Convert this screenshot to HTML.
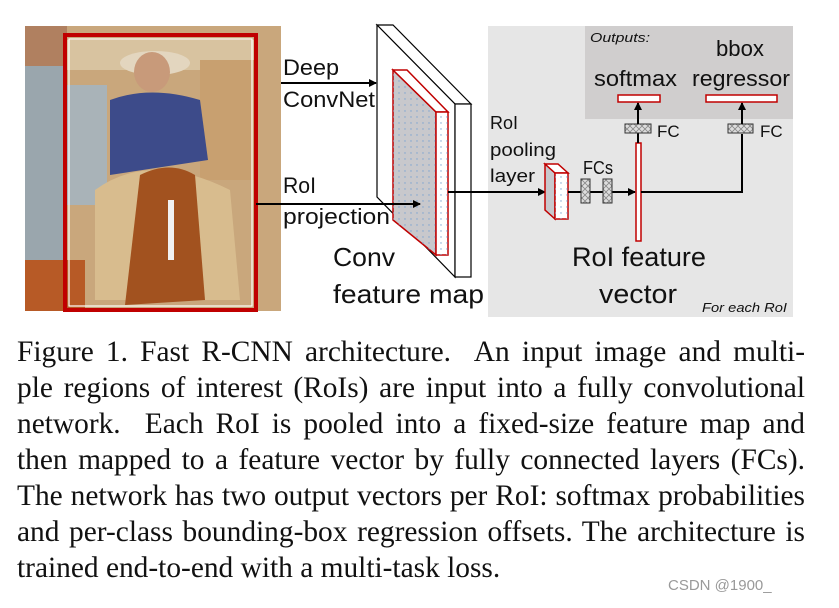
<!DOCTYPE html>
<html><head><meta charset="utf-8"><style>
body{margin:0;width:839px;height:608px;background:#fff;overflow:hidden;position:relative;font-family:"Liberation Sans","DejaVu Sans",sans-serif}
svg{position:absolute;left:0;top:0}
.cap{position:absolute;left:17px;top:334px;width:788px;font-family:"Liberation Serif",serif;font-size:29.4px;line-height:36px;color:#111}
.cap span{display:block;text-align:justify;text-align-last:justify;white-space:nowrap}
.cap span.l{text-align-last:left}
.wm{position:absolute;left:668px;top:577px;font-size:15px;color:#999}
</style></head><body>
<svg width="839" height="608" viewBox="0 0 839 608">
<defs>
<pattern id="dots" width="6" height="6" patternUnits="userSpaceOnUse"><rect width="6" height="6" fill="none"/><circle cx="3" cy="3" r="0.7" fill="#7aa3d0"/></pattern>
<pattern id="xx" width="6" height="6" patternUnits="userSpaceOnUse"><rect width="6" height="6" fill="#ddd"/><path d="M0 0L6 6M6 0L0 6" stroke="#888" stroke-width="0.8"/></pattern>
<marker id="ar" markerWidth="8" markerHeight="8" refX="7" refY="4" orient="auto" markerUnits="userSpaceOnUse"><path d="M0 0L8 4L0 8z" fill="#000"/></marker>
</defs>
<rect x="25" y="26" width="256" height="285" fill="#c9a77c"/>
<rect x="25" y="26" width="42" height="285" fill="#9aa6ad"/>
<rect x="25" y="26" width="42" height="40" fill="#b08060"/>
<rect x="67" y="40" width="190" height="30" fill="#d8c3a0"/>
<rect x="67" y="85" width="40" height="120" fill="#a9b3b8"/>
<rect x="200" y="60" width="56" height="120" fill="#c8a070"/>
<ellipse cx="155" cy="63" rx="35" ry="12" fill="#e3d6bf"/>
<ellipse cx="152" cy="72" rx="18" ry="20" fill="#c89a7a"/>
<path d="M110 100 Q150 85 200 100 L208 160 L110 175z" fill="#3d4b8a"/>
<path d="M95 190 Q150 150 230 190 L240 300 L95 300z" fill="#d8bc8e"/>
<path d="M140 175 Q170 160 195 175 L205 300 L125 305z" fill="#a2521f"/>
<rect x="168" y="200" width="6" height="60" fill="#f1f1f1"/>
<rect x="25" y="260" width="60" height="51" fill="#b75a26"/>
<rect x="65" y="35" width="191" height="275" fill="none" stroke="#c00000" stroke-width="4"/>
<rect x="69" y="39" width="183" height="267" fill="none" stroke="#fff" stroke-width="1.2"/>
<rect x="488" y="26" width="305" height="291" fill="#e6e6e6"/>
<rect x="585" y="26" width="208" height="93" fill="#d0cece"/>
<line x1="281" y1="83" x2="376" y2="83" stroke="#000" stroke-width="2" marker-end="url(#ar)"/>
<polygon points="377,25 393,25 471,104 455,104" fill="#fff" stroke="#000" stroke-width="1.2"/>
<polygon points="377,25 455,104 455,277 377,197" fill="#fff" stroke="#000" stroke-width="1.2"/>
<rect x="455" y="104" width="16" height="173" fill="#fff" stroke="#000" stroke-width="1.2"/>
<polygon points="393,70 436,112 436,255 393,220" fill="#c8c8cc" stroke="#c00000" stroke-width="1.5"/>
<polygon points="393,70 436,112 436,255 393,220" fill="url(#dots)"/>
<polygon points="393,70 407,70 448,112 436,112" fill="#fff" stroke="#c00000" stroke-width="1.5"/>
<rect x="436" y="112" width="12" height="143" fill="#fff" stroke="#c00000" stroke-width="1.5"/>
<rect x="436" y="112" width="12" height="143" fill="url(#dots)"/>
<line x1="256" y1="204" x2="420" y2="204" stroke="#000" stroke-width="2" marker-end="url(#ar)"/>
<line x1="448" y1="192" x2="545" y2="192" stroke="#000" stroke-width="2" marker-end="url(#ar)"/>
<polygon points="545,164 555,173 555,219 545,210" fill="#c8c8cc" stroke="#c00000" stroke-width="1.5"/>
<polygon points="545,164 558,164 568,173 555,173" fill="#fff" stroke="#c00000" stroke-width="1.5"/>
<rect x="555" y="173" width="13" height="46" fill="#fff" stroke="#c00000" stroke-width="1.5"/>
<rect x="555" y="173" width="13" height="46" fill="url(#dots)"/>
<line x1="568" y1="192" x2="635" y2="192" stroke="#000" stroke-width="2" marker-end="url(#ar)"/>
<rect x="581" y="179" width="9" height="24" fill="url(#xx)" stroke="#333" stroke-width="1"/>
<rect x="603" y="179" width="9" height="24" fill="url(#xx)" stroke="#333" stroke-width="1"/>
<rect x="636" y="143" width="5" height="98" fill="#fff" stroke="#c00000" stroke-width="1.5"/>
<polyline points="641,192 742,192 742,134" fill="none" stroke="#000" stroke-width="2"/>
<line x1="638" y1="143" x2="638" y2="133" stroke="#000" stroke-width="2"/>
<rect x="625" y="124" width="26" height="9" fill="url(#xx)" stroke="#333" stroke-width="1"/>
<rect x="728" y="124" width="25" height="9" fill="url(#xx)" stroke="#333" stroke-width="1"/>
<line x1="638" y1="124" x2="638" y2="103" stroke="#000" stroke-width="2" marker-end="url(#ar)"/>
<line x1="742" y1="124" x2="742" y2="103" stroke="#000" stroke-width="2" marker-end="url(#ar)"/>
<rect x="618" y="95" width="42" height="7" fill="#fff" stroke="#c00000" stroke-width="1.5"/>
<rect x="706" y="95" width="71" height="7" fill="#fff" stroke="#c00000" stroke-width="1.5"/>
<g fill="#111" font-family="Liberation Sans, DejaVu Sans, sans-serif">
<text x="283" y="75" font-size="22" textLength="56" lengthAdjust="spacingAndGlyphs">Deep</text>
<text x="283" y="107" font-size="22" textLength="92" lengthAdjust="spacingAndGlyphs">ConvNet</text>
<text x="283" y="193" font-size="22" textLength="33" lengthAdjust="spacingAndGlyphs">RoI</text>
<text x="283" y="224" font-size="22" textLength="107" lengthAdjust="spacingAndGlyphs">projection</text>
<text x="333" y="266" font-size="26" textLength="62" lengthAdjust="spacingAndGlyphs">Conv</text>
<text x="333" y="303" font-size="26" textLength="151" lengthAdjust="spacingAndGlyphs">feature map</text>
<text x="590" y="42" font-size="13" font-style="italic" textLength="60" lengthAdjust="spacingAndGlyphs">Outputs:</text>
<text x="716" y="56" font-size="22" textLength="48" lengthAdjust="spacingAndGlyphs">bbox</text>
<text x="594" y="86" font-size="22" textLength="83" lengthAdjust="spacingAndGlyphs">softmax</text>
<text x="692" y="86" font-size="22" textLength="98" lengthAdjust="spacingAndGlyphs">regressor</text>
<text x="657" y="137" font-size="17">FC</text>
<text x="760" y="137" font-size="17">FC</text>
<text x="490" y="129" font-size="18" textLength="28" lengthAdjust="spacingAndGlyphs">RoI</text>
<text x="490" y="156" font-size="18" textLength="66" lengthAdjust="spacingAndGlyphs">pooling</text>
<text x="490" y="182" font-size="18" textLength="45" lengthAdjust="spacingAndGlyphs">layer</text>
<text x="583" y="174" font-size="18" textLength="30" lengthAdjust="spacingAndGlyphs">FCs</text>
<text x="572" y="266" font-size="27" textLength="134" lengthAdjust="spacingAndGlyphs">RoI feature</text>
<text x="599" y="303" font-size="27" textLength="78" lengthAdjust="spacingAndGlyphs">vector</text>
<text x="702" y="312" font-size="13" font-style="italic" textLength="85" lengthAdjust="spacingAndGlyphs">For each RoI</text>
</g>
</svg>
<div class="cap">
<span>Figure 1. Fast R-CNN architecture.&nbsp; An input image and multi-</span>
<span>ple regions of interest (RoIs) are input into a fully convolutional</span>
<span>network.&nbsp; Each RoI is pooled into a fixed-size feature map and</span>
<span>then mapped to a feature vector by fully connected layers (FCs).</span>
<span>The network has two output vectors per RoI: softmax probabilities</span>
<span>and per-class bounding-box regression offsets. The architecture is</span>
<span class="l">trained end-to-end with a multi-task loss.</span>
</div>
<div class="wm">CSDN @1900_</div>
</body></html>
